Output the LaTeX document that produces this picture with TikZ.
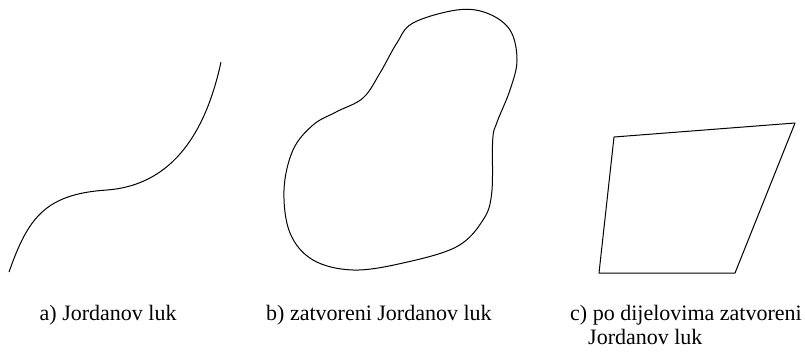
\documentclass[tikz,border=0pt]{standalone}
\usepackage{fontspec}
\setmainfont{Liberation Serif}
\begin{document}
\begin{tikzpicture}[x=1pt,y=-1pt,
  curve/.style={line width=1pt,black,line join=round},
  lbl/.style={anchor=base west,inner sep=0pt,font=\fontsize{22}{24}\selectfont}]
\useasboundingbox (0,0) rectangle (805,351);
% a) Jordan arc
\draw[curve] (9,272) .. controls (28,218) and (45,194) .. (107,190)
  .. controls (160,186) and (202,150) .. (221,62);
% b) closed Jordan curve
\draw[curve] plot[smooth cycle,tension=0.6] coordinates {
 (456.7,10) (486.7,13) (510,30) (517,60) (510,90) (496.7,123) (492.7,140)
 (491.7,193) (483,220) (456.7,246.7) (403,263) (353,270) (313,260)
 (290,233) (284,190) (293,150) (313,125) (336.7,111.7) (363,98)
 (380,73) (396.7,43.3) (413,23)};
% c) piecewise closed
\coordinate (p1) at (614,137);
\coordinate (p2) at (795,123);
\coordinate (p3) at (735,273);
\coordinate (p4) at (599,273);
\draw[curve] (p1) -- (p2) -- (p3) -- (p4) -- cycle;
% labels
\node[lbl] (la) at (39.5,320) {a) Jordanov luk};
\node[lbl] (lb) at (266,320) {b) zatvoreni Jordanov luk};
\node[lbl] (lc) at (570,320) {c) po dijelovima zatvoreni};
\node[lbl] (lc2) at (588,344) {Jordanov luk};
\end{tikzpicture}
\end{document}
